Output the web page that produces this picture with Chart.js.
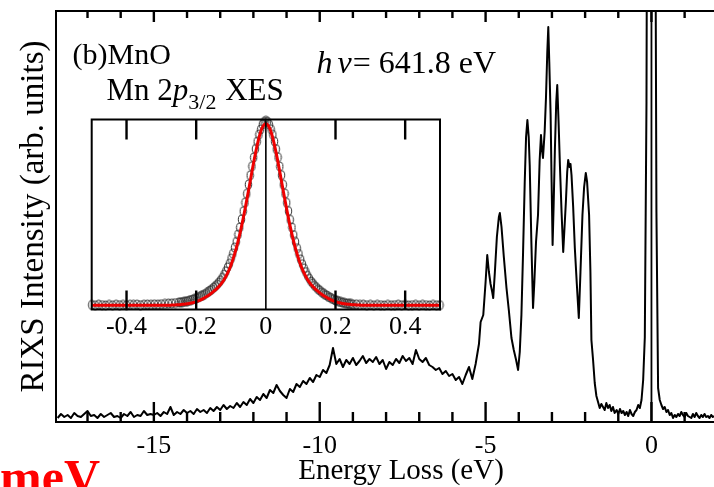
<!DOCTYPE html>
<html>
<head>
<meta charset="utf-8">
<script src="https://cdn.jsdelivr.net/npm/chart.js@4.4.0/dist/chart.umd.min.js"></script>
<style>
  html, body { margin: 0; padding: 0; background: #fff; }
  #wrap { position: relative; width: 714px; height: 487px; overflow: hidden; }
  #main { position: absolute; left: 0; top: 0; }
  #inset { position: absolute; left: 80px; top: 110px; }
</style>
</head>
<body>
<div id="wrap">
  <canvas id="main" width="750" height="487"></canvas>
  <canvas id="inset" width="372" height="234"></canvas>
</div>
<script>
// RIXS spectrum of MnO, energy loss (eV) vs intensity (arb. units)
var lossEnergy = [
  -17.9,-17.8,-17.7,-17.6,-17.5,-17.4,-17.3,-17.2,-17.1,-17.0,
  -16.9,-16.8,-16.7,-16.6,-16.5,-16.4,-16.3,-16.2,-16.1,-16.0,
  -15.9,-15.8,-15.7,-15.6,-15.5,-15.4,-15.3,-15.2,-15.1,-15.0,
  -14.9,-14.8,-14.7,-14.6,-14.5,-14.4,-14.3,-14.2,-14.1,-14.0,
  -13.9,-13.8,-13.7,-13.6,-13.5,-13.4,-13.3,-13.2,-13.1,-13.0,
  -12.9,-12.8,-12.7,-12.6,-12.5,-12.4,-12.3,-12.2,-12.1,-12.0,
  -11.9,-11.8,-11.7,-11.6,-11.5,-11.4,-11.3,-11.2,-11.1,-11.0,
  -10.9,-10.8,-10.7,-10.6,-10.5,-10.4,-10.3,-10.2,-10.1,-10.0,
  -9.9,-9.8,-9.7,-9.6,-9.5,-9.4,-9.3,-9.2,-9.1,-9.0,
  -8.9,-8.8,-8.7,-8.6,-8.5,-8.4,-8.3,-8.2,-8.1,-8.0,
  -7.9,-7.8,-7.7,-7.6,-7.5,-7.4,-7.3,-7.2,-7.1,-7.0,
  -6.9,-6.8,-6.7,-6.6,-6.5,-6.4,-6.3,-6.2,-6.1,-6.0,
  -5.9,-5.8,-5.7,-5.6,-5.5,-5.4,-5.3,
  -5.2,-5.15,-5.07,-5.0,-4.95,-4.9,-4.85,-4.8,-4.77,-4.72,
  -4.66,-4.6,-4.57,-4.52,-4.45,-4.37,-4.3,-4.22,-4.15,-4.08,
  -4.02,-3.97,-3.92,-3.87,-3.82,-3.78,-3.74,-3.7,-3.67,-3.62,
  -3.57,-3.53,-3.48,-3.42,-3.37,-3.33,-3.3,-3.27,-3.22,-3.18,
  -3.14,-3.11,-3.08,-3.04,-3.01,-2.98,-2.95,-2.91,-2.87,-2.84,
  -2.8,-2.76,-2.71,-2.66,-2.62,-2.58,-2.54,-2.51,-2.47,-2.44,
  -2.41,-2.36,-2.31,-2.25,-2.19,-2.14,-2.08,-2.03,-1.98,-1.94,
  -1.88,-1.84,-1.81,-1.76,-1.71,-1.66,-1.61,-1.56,-1.51,-1.46,
  -1.41,-1.36,-1.31,-1.26,-1.21,-1.16,-1.11,-1.05,-1.0,-0.95,
  -0.9,-0.85,-0.8,-0.75,-0.7,-0.65,-0.6,-0.55,-0.5,-0.45,
  -0.4,-0.35,-0.3,-0.25,-0.2,-0.15,-0.1,-0.05,0,0.05,
  0.1,0.15,0.2,0.25,0.3,0.35,0.4,0.45,0.5,0.55,
  0.6,0.65,0.7,0.75,0.8,0.85,0.9,0.95,1.0,1.05,
  1.1,1.2,1.25,1.3,1.35,1.4,1.45,1.5,1.55,1.6,
  1.65,1.7,1.75,1.8,1.85,1.9,1.95,2.0
];
var rixsIntensity = [
  4,8,5,7,4,9,6,5,8,11,
  6,7,4,8,5,7,9,5,6,4,
  8,6,10,5,7,6,11,7,8,7,
  9,6,10,8,15,7,10,8,12,9,
  11,8,13,10,12,9,14,11,15,12,
  17,13,16,14,19,15,20,17,23,19,
  25,22,28,24,32,29,37,31,27,24,
  33,30,38,35,41,38,44,40,47,45,
  52,49,57,74,58,63,55,62,58,64,
  57,61,66,59,63,60,65,58,62,53,
  60,57,63,59,66,61,64,58,72,63,
  60,64,57,55,52,54,48,51,46,48,
  42,45,38,47,55,43,58,
  78,100,107,140,167,150,138,130,124,150,
  185,205,209,195,165,134,112,84,72,62,
  52,70,107,170,240,285,302,285,257,180,
  114,140,180,207,262,287,272,264,290,324,
  370,395,360,307,240,177,215,274,320,337,
  300,257,210,170,195,220,250,262,255,258,
  247,215,174,138,104,150,207,235,249,240,
  207,150,82,62,39,26,20,14,18,15,
  12,19,14,17,11,15,9,12,8,13,
  9,11,7,10,6,12,8,6,10,12,
  17,14,22,42,85,320,950,1700,2100,1500,
  700,210,34,22,17,13,15,10,12,7,
  9,4,7,5,8,6,10,7,5,9,
  6,4,8,5,9,6,4,7,5,8,
  5,6,4,7,5,6,5,5
];
var mainMajorTicks = [-15, -10, -5, 0];
var mainMinorTicks = [-17, -16, -14, -13, -12, -11, -9, -8, -7, -6, -4, -3, -2, -1, 1, 2];

// Mn 2p3/2 XES elastic line (inset): measured points and fitted profile
var xesEnergy = [
  -0.50,-0.49,-0.48,-0.47,-0.46,-0.45,-0.44,-0.43,-0.42,-0.41,
  -0.40,-0.39,-0.38,-0.37,-0.36,-0.35,-0.34,-0.33,-0.32,-0.31,
  -0.30,-0.29,-0.28,-0.27,-0.26,-0.25,-0.245,-0.24,-0.235,-0.23,
  -0.225,-0.22,-0.215,-0.21,-0.205,-0.20,-0.195,-0.19,-0.185,-0.18,
  -0.175,-0.17,-0.165,-0.16,-0.155,-0.15,-0.145,-0.14,-0.135,-0.13,
  -0.125,-0.12,-0.115,-0.11,-0.105,-0.10,-0.095,-0.09,-0.085,-0.08,
  -0.075,-0.07,-0.065,-0.06,-0.055,-0.05,-0.045,-0.04,-0.035,-0.03,
  -0.025,-0.02,-0.015,-0.01,-0.005,0,0.005,0.01,0.015,0.02,
  0.025,0.03,0.035,0.04,0.045,0.05,0.055,0.06,0.065,0.07,
  0.075,0.08,0.085,0.09,0.095,0.10,0.105,0.11,0.115,0.12,
  0.125,0.13,0.135,0.14,0.145,0.15,0.155,0.16,0.165,0.17,
  0.175,0.18,0.185,0.19,0.195,0.20,0.205,0.21,0.215,0.22,
  0.225,0.23,0.235,0.24,0.245,0.25,0.26,0.27,0.28,0.29,
  0.30,0.31,0.32,0.33,0.34,0.35,0.36,0.37,0.38,0.39,
  0.40,0.41,0.42,0.43,0.44,0.45,0.46,0.47,0.48,0.49,0.50
];
var xesIntensity = [
  0.002,0.000,0.003,0.001,-0.001,0.002,0.000,0.003,0.001,0.002,
  0.000,0.003,0.002,0.004,0.001,0.003,0.004,0.003,0.005,0.004,
  0.006,0.007,0.009,0.010,0.012,0.015,0.016,0.017,0.019,0.020,
  0.022,0.025,0.028,0.031,0.034,0.037,0.041,0.046,0.051,0.055,
  0.061,0.067,0.073,0.080,0.087,0.096,0.104,0.113,0.124,0.136,
  0.149,0.166,0.184,0.205,0.225,0.253,0.280,0.313,0.344,0.384,
  0.422,0.466,0.510,0.557,0.605,0.655,0.705,0.754,0.802,0.848,
  0.888,0.926,0.954,0.981,0.995,1.000,0.996,0.980,0.955,0.925,
  0.889,0.847,0.803,0.753,0.706,0.654,0.606,0.556,0.511,0.464,
  0.422,0.381,0.344,0.310,0.278,0.249,0.223,0.200,0.180,0.160,
  0.144,0.129,0.119,0.106,0.098,0.087,0.081,0.071,0.066,0.057,
  0.053,0.045,0.042,0.035,0.032,0.026,0.025,0.019,0.018,0.014,
  0.013,0.009,0.010,0.007,0.007,0.005,0.005,0.002,0.003,0.001,
  0.002,0.000,0.002,0.001,-0.001,0.002,0.000,0.001,0.003,0.000,
  0.002,-0.001,0.001,0.002,0.000,0.002,0.001,-0.001,0.002,0.000,0.001
];
var fitEnergy = [
  -0.50,-0.49,-0.48,-0.47,-0.46,-0.45,-0.44,-0.43,-0.42,-0.41,
  -0.40,-0.39,-0.38,-0.37,-0.36,-0.35,-0.34,-0.33,-0.32,-0.31,
  -0.30,-0.29,-0.28,-0.27,-0.26,-0.25,-0.24,-0.23,-0.22,-0.21,
  -0.20,-0.19,-0.18,-0.17,-0.16,-0.15,-0.14,-0.13,-0.12,-0.11,
  -0.10,-0.09,-0.08,-0.07,-0.06,-0.05,-0.04,-0.03,-0.02,-0.01,
  0,0.01,0.02,0.03,0.04,0.05,0.06,0.07,0.08,0.09,
  0.10,0.11,0.12,0.13,0.14,0.15,0.16,0.17,0.18,0.19,
  0.20,0.21,0.22,0.23,0.24,0.25,0.26,0.27,0.28,0.29,
  0.30,0.31,0.32,0.33,0.34,0.35,0.36,0.37,0.38,0.39,
  0.40,0.41,0.42,0.43,0.44,0.45,0.46,0.47,0.48,0.49,0.50
];
var fitIntensity = [
  0,0,0,0,0,0,0,0,0,0,
  0,0,0,0,0,0,0,0,0,0,
  0,0,0,0.001,0.002,0.003,0.005,0.007,0.010,0.014,
  0.020,0.027,0.036,0.047,0.060,0.075,0.092,0.112,0.138,0.174,
  0.219,0.276,0.345,0.427,0.520,0.620,0.724,0.823,0.907,0.965,
  0.985,0.965,0.907,0.823,0.724,0.620,0.520,0.427,0.345,0.276,
  0.219,0.174,0.138,0.112,0.092,0.075,0.060,0.047,0.036,0.027,
  0.020,0.014,0.010,0.007,0.005,0.003,0.002,0.001,0,0,
  0,0,0,0,0,0,0,0,0,0,
  0,0,0,0,0,0,0,0,0,0,0
];
var insetTicks = [-0.4, -0.2, 0, 0.2, 0.4];

Chart.defaults.font.family = "'Liberation Serif', 'Times New Roman', serif";
Chart.defaults.color = '#000';

function toPoints(xs, ys) {
  return xs.map(function(v, i) { return {x: v, y: ys[i]}; });
}

// box around the plot area, inward ticks on top and bottom, and the zero line
function frameTicks(o) {
  return {
    id: 'frameTicks',
    afterDraw: function(chart) {
      var ctx = chart.ctx;
      var a = chart.chartArea;
      var sx = chart.scales.x;
      var i, px;
      ctx.save();
      ctx.strokeStyle = '#000';
      ctx.lineWidth = o.frameWidth;
      ctx.strokeRect(a.left, a.top, a.right - a.left, a.bottom - a.top);
      ctx.lineWidth = o.tickWidth;
      ctx.beginPath();
      for (i = 0; i < o.minor.length; i++) {
        px = sx.getPixelForValue(o.minor[i]);
        ctx.moveTo(px, a.top);
        ctx.lineTo(px, a.top + o.topMinor);
        ctx.moveTo(px, a.bottom);
        ctx.lineTo(px, a.bottom - o.bottomMinor);
      }
      for (i = 0; i < o.major.length; i++) {
        px = sx.getPixelForValue(o.major[i]);
        ctx.moveTo(px, a.top);
        ctx.lineTo(px, a.top + o.topMajor);
        ctx.moveTo(px, a.bottom);
        ctx.lineTo(px, a.bottom - o.bottomMajor);
      }
      ctx.stroke();
      ctx.lineWidth = o.zeroWidth;
      ctx.beginPath();
      px = sx.getPixelForValue(0);
      ctx.moveTo(px, a.top);
      ctx.lineTo(px, a.bottom);
      ctx.stroke();
      ctx.restore();
    }
  };
}

// writes a row of text pieces one after another
function drawRuns(ctx, x, y, runs) {
  runs.forEach(function(r) {
    ctx.font = r.font;
    ctx.fillText(r.text, x, y + (r.dy || 0));
    x += ctx.measureText(r.text).width + (r.gap || 0);
  });
}

var serif = "'Liberation Serif', serif";
var labels = {
  id: 'labels',
  afterDraw: function(chart) {
    var ctx = chart.ctx;
    ctx.save();
    ctx.fillStyle = '#000';
    ctx.textBaseline = 'alphabetic';
    ctx.textAlign = 'left';
    drawRuns(ctx, 72.5, 64, [{text: '(b)MnO', font: '30px ' + serif}]);
    drawRuns(ctx, 106.5, 100, [
      {text: 'Mn 2', font: '31px ' + serif},
      {text: 'p', font: 'italic 31px ' + serif},
      {text: '3/2', font: '22px ' + serif, dy: 9, gap: 1},
      {text: ' XES', font: '31px ' + serif}
    ]);
    drawRuns(ctx, 316.5, 72.5, [
      {text: 'h', font: 'italic 32px ' + serif, gap: 5},
      {text: '\u03bd', font: 'italic 32px ' + serif, gap: 1},
      {text: '= 641.8 eV', font: '32px ' + serif}
    ]);
    ctx.fillStyle = '#ff0000';
    ctx.textAlign = 'right';
    ctx.font = 'bold 50px ' + serif;
    ctx.fillText('meV', 100, 494);
    ctx.restore();
  }
};

new Chart(document.getElementById('main'), {
  type: 'line',
  data: {
    datasets: [{
      data: toPoints(lossEnergy, rixsIntensity),
      borderColor: '#000',
      borderWidth: 2,
      borderJoinStyle: 'round',
      pointRadius: 0,
      tension: 0,
      clip: 0
    }]
  },
  options: {
    responsive: false,
    animation: false,
    layout: { autoPadding: false, padding: { left: 10.2, right: 4, top: 11, bottom: 0 } },
    plugins: { legend: { display: false }, tooltip: { enabled: false } },
    scales: {
      x: {
        type: 'linear', min: -17.95, max: 2.85,
        afterBuildTicks: function(ax) { ax.ticks = mainMajorTicks.map(function(v) { return {value: v}; }); },
        afterFit: function(ax) { ax.height = 65; },
        grid: { display: false, drawTicks: false },
        border: { display: false },
        ticks: { padding: 8.4, color: '#000', font: { size: 26 } },
        title: { display: true, text: 'Energy Loss (eV)', color: '#000', font: { size: 29, lineHeight: 1 }, padding: { top: 0, bottom: 1.4 } }
      },
      y: {
        min: 0, max: 411,
        afterFit: function(ax) { ax.width = 45.8; },
        grid: { display: false, drawTicks: false },
        border: { display: false },
        ticks: { display: false },
        title: { display: true, text: 'RIXS Intensity (arb. units)', color: '#000', font: { size: 33 }, padding: { top: 4, bottom: 2 } }
      }
    }
  },
  plugins: [frameTicks({
    major: mainMajorTicks, minor: mainMinorTicks,
    topMajor: 11, topMinor: 7, bottomMajor: 20, bottomMinor: 10,
    tickWidth: 2.4, zeroWidth: 1.8, frameWidth: 2
  }), labels]
});

// open ring used for the measured XES points
var ring = document.createElement('canvas');
ring.width = 9; ring.height = 11;
var rc = ring.getContext('2d');
rc.strokeStyle = '#2a2a2a';
rc.lineWidth = 1;
rc.beginPath();
rc.ellipse(4.5, 5.5, 3.2, 4.4, 0, 0, 2 * Math.PI);
rc.stroke();

new Chart(document.getElementById('inset'), {
  type: 'line',
  data: {
    datasets: [{
      data: toPoints(fitEnergy, fitIntensity),
      borderColor: '#ee0000',
      borderWidth: 3,
      pointRadius: 0,
      cubicInterpolationMode: 'monotone',
      clip: 4
    }, {
      data: toPoints(xesEnergy, xesIntensity),
      showLine: false,
      pointStyle: ring,
      pointRadius: 4,
      clip: 6
    }]
  },
  options: {
    responsive: false,
    animation: false,
    layout: { autoPadding: false, padding: { left: 11.7, right: 12, top: 9.5, bottom: 0 } },
    plugins: { legend: { display: false }, tooltip: { enabled: false } },
    scales: {
      x: {
        type: 'linear', min: -0.5, max: 0.5,
        afterBuildTicks: function(ax) { ax.ticks = insetTicks.map(function(v) { return {value: v}; }); },
        afterFit: function(ax) { ax.height = 34.5; },
        grid: { display: false, drawTicks: false },
        border: { display: false },
        ticks: { padding: 2.4, color: '#000', font: { size: 26 } }
      },
      y: { display: false, min: -0.023, max: 1.008 }
    }
  },
  plugins: [frameTicks({
    major: [-0.4, -0.2, 0.2, 0.4], minor: [],
    topMajor: 20, topMinor: 0, bottomMajor: 19, bottomMinor: 0,
    tickWidth: 2.4, zeroWidth: 1.6, frameWidth: 2
  })]
});
</script>
</body>
</html>
